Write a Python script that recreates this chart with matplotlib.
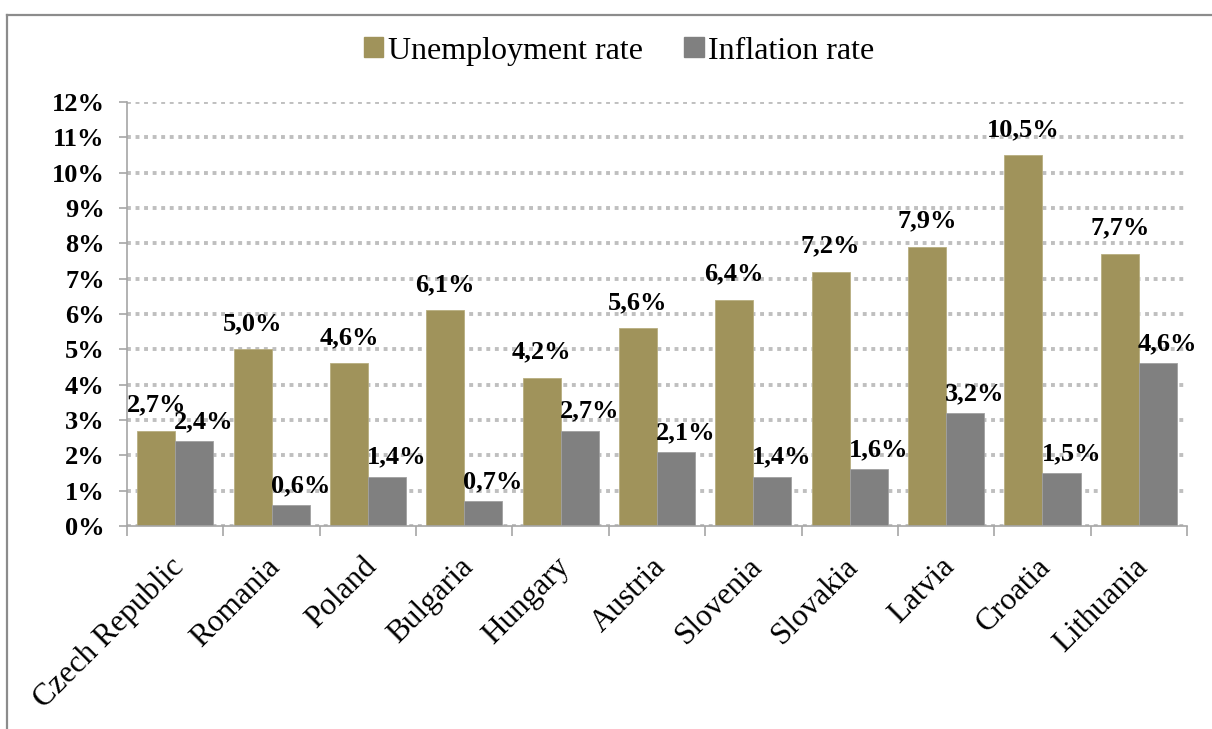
import numpy as np
import matplotlib.pyplot as plt
import matplotlib.transforms as mtransforms
from matplotlib.patches import Patch
from matplotlib.lines import Line2D

countries = ['Czech Republic', 'Romania', 'Poland', 'Bulgaria', 'Hungary', 'Austria',
             'Slovenia', 'Slovakia', 'Latvia', 'Croatia', 'Lithuania']
unemployment = [2.7, 5.0, 4.6, 6.1, 4.2, 5.6, 6.4, 7.2, 7.9, 10.5, 7.7]
inflation = [2.4, 0.6, 1.4, 0.7, 2.7, 2.1, 1.4, 1.6, 3.2, 1.5, 4.6]
series_names = ['Unemployment rate', 'Inflation rate']
y_ticks = list(range(0, 13))

olive = '#A0935B'
grey = '#808080'
axis_grey = '#A6A6A6'

plt.rcParams['font.family'] = ['Liberation Serif', 'DejaVu Serif']

fig = plt.figure(figsize=(12.12, 7.29), dpi=100)
ax = fig.add_axes([0.1048, 0.2785, 0.8746, 0.5815])

x = np.arange(len(countries))
w = 0.395
ax.bar(x - w / 2, unemployment, w, color=olive, edgecolor='#B8AE80', linewidth=0.6, zorder=2)
ax.bar(x + w / 2, inflation, w, color=grey, edgecolor='#A0A0A0', linewidth=0.6, zorder=2)

def fmt(v):
    return f"{v:.1f}".replace('.', ',') + '%'

# data labels
for xi, v in zip(x, unemployment):
    ax.annotate(fmt(v), (xi - w / 2, v), xytext=(0, 18.5), textcoords='offset points',
                ha='center', va='center', fontsize=19, fontweight='bold')
for xi, v in zip(x, inflation):
    ax.annotate(fmt(v), (xi + w / 2, v), xytext=(7, 14), textcoords='offset points',
                ha='center', va='center', fontsize=19, fontweight='bold')

ax.set_xlim(-0.5, len(countries) - 0.5)
ax.set_ylim(0, 12)
ax.set_yticks(y_ticks)
ax.set_yticklabels([f"{t}%" for t in y_ticks], fontsize=19, fontweight='bold')
ax.tick_params(axis='y', length=6, width=1.2, color=axis_grey, pad=10)

ax.set_xticks(np.arange(len(countries) + 1) - 0.5)
ax.set_xticklabels([])
ax.tick_params(axis='x', which='major', length=7, width=1.2, color=axis_grey, direction='out')
ax.set_xticks(x, minor=True)
ax.set_xticklabels(countries, minor=True, rotation=45, ha='right', rotation_mode='anchor',
                   fontsize=22.5)
ax.tick_params(axis='x', which='minor', length=0, pad=19)
shift = mtransforms.ScaledTranslation(-0.06, 0, fig.dpi_scale_trans)
for lab in ax.get_xticklabels(minor=True):
    lab.set_transform(lab.get_transform() + shift)

ax.yaxis.grid(True, linestyle=(0, (1, 1.2)), linewidth=2.8, color='#BFBFBF')
ax.set_axisbelow(True)
for s in ['top', 'right']:
    ax.spines[s].set_visible(False)
for s in ['left', 'bottom']:
    ax.spines[s].set_color(axis_grey)
    ax.spines[s].set_linewidth(1.2)

handles = [Patch(color=olive), Patch(color=grey)]
fig.legend(handles, series_names, loc='center', bbox_to_anchor=(0.511, 0.930), ncol=2,
           frameon=False, fontsize=23, handlelength=0.6, handleheight=0.6,
           handletextpad=0.15, columnspacing=1.3)

# outer frame (cropped)
fig.add_artist(Line2D([0.006, 1.0], [0.979, 0.979], color='#8C8C8C', linewidth=1.6))
fig.add_artist(Line2D([0.006, 0.006], [0.0, 0.979], color='#8C8C8C', linewidth=1.6))

fig.savefig('out.png', dpi=100)
